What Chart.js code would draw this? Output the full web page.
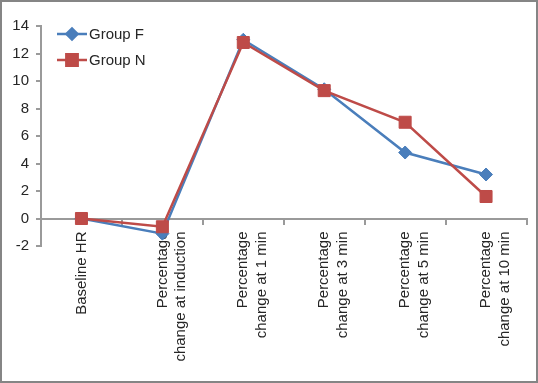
<!DOCTYPE html>
<html lang="en">
<head>
<meta charset="UTF-8">
<title>Heart rate change</title>
<script src="https://cdn.jsdelivr.net/npm/chart.js"></script>
<style>
  body { margin: 0; background: #fff; }
  .frame { width: 538px; height: 383px; box-sizing: border-box; border: 2px solid #858585; background: #fff; }
  canvas { display: block; }
</style>
</head>
<body>
<div class="frame"><canvas id="grafico" width="534" height="379"></canvas></div>
<script>
  // categorias e valores
  const categorias = [
    'Baseline HR',
    ['Percentage', 'change at induction'],
    ['Percentage', 'change at 1 min'],
    ['Percentage', 'change at 3 min'],
    ['Percentage', 'change at 5 min'],
    ['Percentage', 'change at 10 min']
  ];
  const grupoF = [0, -1.1, 13.0, 9.4, 4.8, 3.2];
  const grupoN = [0, -0.6, 12.8, 9.3, 7.0, 1.6];
  const yMin = -2, yMax = 14, yStep = 2;

  const azul = '#4a7ebb';
  const vermelho = '#be4b48';
  const cinza = '#9a9a9a';
  const fonte = { family: '"Liberation Sans", Arial, sans-serif', size: 15, lineHeight: 1.25 };

  // legenda desenhada dentro da area do grafico (linha + marcador)
  const legendaInterna = {
    id: 'legendaInterna',
    afterDraw(chart) {
      const ctx = chart.ctx;
      const area = chart.chartArea;
      const x0 = area.left + 16;
      let y = area.top + 8;
      ctx.save();
      chart.data.datasets.forEach(function (ds) {
        ctx.strokeStyle = ds.borderColor;
        ctx.lineWidth = ds.borderWidth;
        ctx.beginPath();
        ctx.moveTo(x0, y);
        ctx.lineTo(x0 + 30, y);
        ctx.stroke();
        ctx.fillStyle = ds.pointBackgroundColor;
        ctx.strokeStyle = ds.pointBorderColor;
        Chart.helpers.drawPoint(ctx, {
          pointStyle: ds.pointStyle,
          radius: ds.legendRadius,
          borderWidth: 1
        }, x0 + 15, y);
        ctx.fillStyle = '#262626';
        ctx.font = '15px "Liberation Sans", Arial, sans-serif';
        ctx.textBaseline = 'middle';
        ctx.textAlign = 'left';
        ctx.fillText(ds.label, x0 + 32, y + 1);
        y += 26;
      });
      ctx.restore();
    }
  };

  const dados = {
    labels: categorias,
    datasets: [
      {
        label: 'Group F',
        data: grupoF,
        borderColor: azul,
        backgroundColor: azul,
        pointBackgroundColor: azul,
        pointBorderColor: azul,
        borderWidth: 2.5,
        pointStyle: 'rectRot',
        pointRadius: 6.5,
        legendRadius: 5.5,
        pointBorderWidth: 1,
        tension: 0,
        order: 1
      },
      {
        label: 'Group N',
        data: grupoN,
        borderColor: vermelho,
        backgroundColor: vermelho,
        pointBackgroundColor: vermelho,
        pointBorderColor: vermelho,
        borderWidth: 2.5,
        pointStyle: 'rect',
        pointRadius: 8.5,
        legendRadius: 8,
        pointBorderWidth: 1,
        tension: 0,
        order: 0
      }
    ]
  };

  const config = {
    type: 'line',
    data: dados,
    options: {
      responsive: false,
      animation: false,
      layout: { padding: { top: 24, right: 9, bottom: 135, left: 0 } },
      plugins: {
        legend: { display: false },
        tooltip: { enabled: false }
      },
      scales: {
        x: {
          type: 'category',
          position: { y: 0 },
          offset: true,
          border: { display: true, color: cinza, width: 2 },
          grid: { display: true, offset: true, drawOnChartArea: false, drawTicks: true, tickLength: 5, color: cinza, lineWidth: 2 },
          ticks: { color: '#262626', font: fonte, minRotation: 90, maxRotation: 90, autoSkip: false, padding: 8 }
        },
        y: {
          min: yMin,
          max: yMax,
          afterFit: function (scale) { scale.width = 39; },
          border: { display: true, color: cinza, width: 2 },
          grid: { display: true, drawOnChartArea: false, drawTicks: true, tickLength: 5, color: cinza, lineWidth: 2 },
          ticks: { stepSize: yStep, color: '#262626', font: fonte, padding: 7 }
        }
      }
    },
    plugins: [legendaInterna]
  };

  new Chart(document.getElementById('grafico'), config);
</script>
</body>
</html>
